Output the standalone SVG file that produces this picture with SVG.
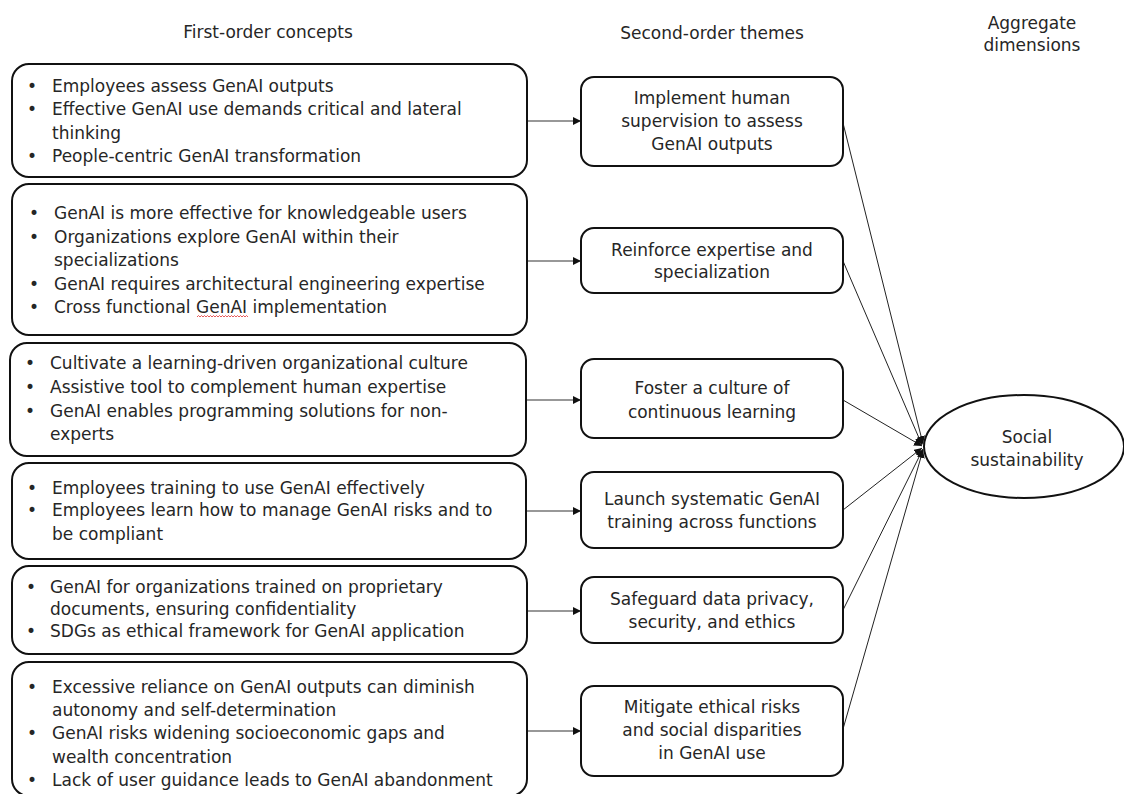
<svg xmlns="http://www.w3.org/2000/svg" width="1124" height="794" viewBox="0 0 1124 794">
<defs>
<style>
text{font-family:"DejaVu Sans","Liberation Sans",sans-serif;font-size:17px;fill:#262626}
.c{text-anchor:middle}
.b{text-anchor:middle}
.lb{fill:#fff;stroke:#111;stroke-width:2}
.mb{fill:#fff;stroke:#111;stroke-width:2}
.ar{fill:none;stroke:#333;stroke-width:1.2}
.ln{fill:none;stroke:#222;stroke-width:1}
</style>
<marker id="ah" viewBox="0 0 8 8" refX="8" refY="4" markerWidth="8" markerHeight="8" markerUnits="userSpaceOnUse" orient="auto">
<path d="M0,0 L8,4 L0,8 z" fill="#111"/>
</marker>
</defs>
<rect width="1124" height="794" fill="#fff"/>

<g id="headers">
<text class="c" x="268" y="38">First-order concepts</text>
<text class="c" x="712" y="39">Second-order themes</text>
<text class="c" x="1032" y="29">Aggregate</text>
<text class="c" x="1032" y="51">dimensions</text>
</g>

<g id="connectors">
<path class="ar" d="M527,121 H581" marker-end="url(#ah)"/>
<path class="ar" d="M527,261 H581" marker-end="url(#ah)"/>
<path class="ar" d="M526,400 H581" marker-end="url(#ah)"/>
<path class="ar" d="M526,511 H581" marker-end="url(#ah)"/>
<path class="ar" d="M527,611 H581" marker-end="url(#ah)"/>
<path class="ar" d="M527,731 H581" marker-end="url(#ah)"/>
<path class="ln" d="M843,123 L923,444" marker-end="url(#ah)"/>
<path class="ln" d="M843,261 L922,445" marker-end="url(#ah)"/>
<path class="ln" d="M843,400 L922,446" marker-end="url(#ah)"/>
<path class="ln" d="M843,510 L922,448" marker-end="url(#ah)"/>
<path class="ln" d="M843,610 L923,449" marker-end="url(#ah)"/>
<path class="ln" d="M843,729 L923,450" marker-end="url(#ah)"/>
</g>

<g id="fo1">
<rect class="lb" x="12" y="64" width="515" height="113" rx="17"/>
<text class="b" x="32" y="92">•</text><text x="52" y="92">Employees assess GenAI outputs</text>
<text class="b" x="32" y="115">•</text><text x="52" y="115">Effective GenAI use demands critical and lateral</text>
<text x="52" y="139">thinking</text>
<text class="b" x="32" y="162">•</text><text x="52" y="162">People-centric GenAI transformation</text>
</g>

<g id="fo2">
<rect class="lb" x="12" y="184" width="515" height="151" rx="17"/>
<text class="b" x="34" y="219">•</text><text x="54" y="219">GenAI is more effective for knowledgeable users</text>
<text class="b" x="34" y="242.5">•</text><text x="54" y="242.5">Organizations explore GenAI within their</text>
<text x="54" y="266">specializations</text>
<text class="b" x="34" y="289.5">•</text><text x="54" y="289.5">GenAI requires architectural engineering expertise</text>
<text class="b" x="34" y="313">•</text><text x="54" y="313">Cross functional GenAI implementation</text>
<path d="M197,317 l1.5,-1.5 l1.5,1.5 l1.5,-1.5 l1.5,1.5 l1.5,-1.5 l1.5,1.5 l1.5,-1.5 l1.5,1.5 l1.5,-1.5 l1.5,1.5 l1.5,-1.5 l1.5,1.5 l1.5,-1.5 l1.5,1.5 l1.5,-1.5 l1.5,1.5 l1.5,-1.5 l1.5,1.5 l1.5,-1.5 l1.5,1.5 l1.5,-1.5 l1.5,1.5 l1.5,-1.5 l1.5,1.5 l1.5,-1.5 l1.5,1.5 l1.5,-1.5 l1.5,1.5 l1.5,-1.5 l1.5,1.5 l1.5,-1.5 l1.5,1.5 l1.5,-1.5 l1.5,1.5" fill="none" stroke="#e03030" stroke-width="0.8"/>
</g>

<g id="fo3">
<rect class="lb" x="10" y="343" width="516" height="113" rx="17"/>
<text class="b" x="30" y="369">•</text><text x="50" y="369">Cultivate a learning-driven organizational culture</text>
<text class="b" x="30" y="393">•</text><text x="50" y="393">Assistive tool to complement human expertise</text>
<text class="b" x="30" y="416.5">•</text><text x="50" y="416.5">GenAI enables programming solutions for non-</text>
<text x="50" y="440">experts</text>
</g>

<g id="fo4">
<rect class="lb" x="12" y="463" width="514" height="96" rx="17"/>
<text class="b" x="32" y="493.5">•</text><text x="52" y="493.5">Employees training to use GenAI effectively</text>
<text class="b" x="32" y="516">•</text><text x="52" y="516">Employees learn how to manage GenAI risks and to</text>
<text x="52" y="539.5">be compliant</text>
</g>

<g id="fo5">
<rect class="lb" x="12" y="566" width="515" height="88" rx="17"/>
<text class="b" x="31" y="593">•</text><text x="50" y="593">GenAI for organizations trained on proprietary</text>
<text x="50" y="615">documents, ensuring confidentiality</text>
<text class="b" x="31" y="637">•</text><text x="50" y="637">SDGs as ethical framework for GenAI application</text>
</g>

<g id="fo6">
<rect class="lb" x="12" y="662" width="515" height="134" rx="17"/>
<text class="b" x="32" y="692.5">•</text><text x="52" y="692.5">Excessive reliance on GenAI outputs can diminish</text>
<text x="52" y="716">autonomy and self-determination</text>
<text class="b" x="32" y="739">•</text><text x="52" y="739">GenAI risks widening socioeconomic gaps and</text>
<text x="52" y="762.5">wealth concentration</text>
<text class="b" x="32" y="785.5">•</text><text x="52" y="785.5">Lack of user guidance leads to GenAI abandonment</text>
</g>

<g id="so1">
<rect class="mb" x="581" y="77" width="262" height="89" rx="13"/>
<text class="c" x="712" y="104">Implement human</text>
<text class="c" x="712" y="127">supervision to assess</text>
<text class="c" x="712" y="150">GenAI outputs</text>
</g>
<g id="so2">
<rect class="mb" x="581" y="228" width="262" height="65" rx="13"/>
<text class="c" x="712" y="256">Reinforce expertise and</text>
<text class="c" x="712" y="278">specialization</text>
</g>
<g id="so3">
<rect class="mb" x="581" y="359" width="262" height="79" rx="13"/>
<text class="c" x="712" y="394">Foster a culture of</text>
<text class="c" x="712" y="417.5">continuous learning</text>
</g>
<g id="so4">
<rect class="mb" x="581" y="472" width="262" height="76" rx="13"/>
<text class="c" x="712" y="505">Launch systematic GenAI</text>
<text class="c" x="712" y="527.5">training across functions</text>
</g>
<g id="so5">
<rect class="mb" x="581" y="577" width="262" height="66" rx="13"/>
<text class="c" x="712" y="605">Safeguard data privacy,</text>
<text class="c" x="712" y="627.5">security, and ethics</text>
</g>
<g id="so6">
<rect class="mb" x="581" y="686" width="262" height="90" rx="13"/>
<text class="c" x="712" y="713">Mitigate ethical risks</text>
<text class="c" x="712" y="736">and social disparities</text>
<text class="c" x="712" y="759">in GenAI use</text>
</g>

<g id="agg">
<ellipse cx="1024" cy="446.5" rx="100" ry="51.5" fill="#fff" stroke="#111" stroke-width="2"/>
<text class="c" x="1027" y="443">Social</text>
<text class="c" x="1027" y="466">sustainability</text>
</g>
</svg>
